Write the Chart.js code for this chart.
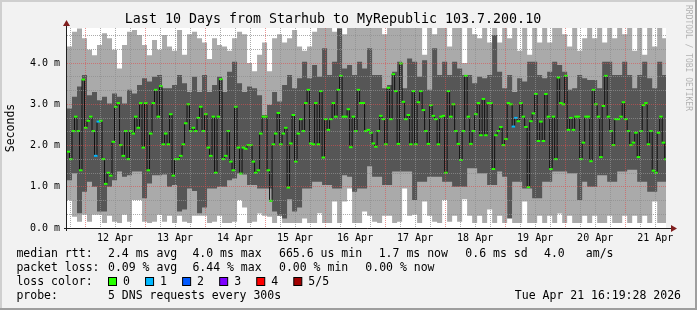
<!DOCTYPE html>
<html>
<head>
<meta charset="utf-8">
<title>Last 10 Days from Starhub to MyRepublic</title>
<script src="https://cdn.jsdelivr.net/npm/chart.js@4.4.1/dist/chart.umd.min.js"></script>
<style>
  html, body { margin: 0; padding: 0; background: #f2f2f2; }
  #wrap { width: 697px; height: 310px; position: relative; }
</style>
</head>
<body>
<div id="wrap"><canvas id="smokeChart"></canvas></div>
<script>
// time axis is in hours, counted from 12 Apr 00:00
const startHour = -7.2;
const endHour = 232.32;
const dayLabels = ['12 Apr', '13 Apr', '14 Apr', '15 Apr', '16 Apr', '17 Apr', '18 Apr', '19 Apr', '20 Apr', '21 Apr'];

// median rtt (ms), one value per hour
const medianRtt = [
  1.85,1.67,2.35,2.70,2.35,1.40,3.60,2.43,2.60,2.70,2.35,1.75,2.58,2.60,1.67,1.07,1.34,1.27,2.09,2.94,
  3.03,2.01,1.75,2.35,1.67,2.35,2.29,2.70,2.43,3.03,1.95,3.03,1.40,2.29,3.03,3.35,2.70,3.44,2.03,2.29,
  2.03,2.76,1.27,1.67,1.67,1.75,2.03,2.54,3.00,2.35,2.43,2.35,2.67,2.94,2.35,2.76,1.95,1.75,2.70,1.34,
  2.70,3.61,1.67,1.75,2.35,1.61,1.40,2.94,1.95,1.32,1.95,1.92,2.01,2.01,1.61,1.34,1.40,2.29,2.70,2.70,
  1.40,0.66,2.03,2.29,2.79,2.03,2.29,2.43,0.98,2.05,2.74,1.61,2.29,2.64,2.35,3.03,3.35,2.05,2.03,3.03,
  2.03,3.32,1.71,2.64,2.38,2.64,3.03,2.70,3.35,3.69,2.70,2.70,2.88,1.96,2.70,2.35,3.35,3.03,3.03,2.35,
  2.38,2.31,2.05,1.97,2.35,2.72,2.64,2.03,3.40,2.64,3.73,3.32,2.04,3.99,3.06,2.64,2.74,2.03,3.32,2.03,
  3.05,3.32,2.86,2.35,2.04,2.98,2.72,2.64,2.03,2.70,2.72,1.34,3.32,2.70,3.00,2.35,2.04,1.65,2.35,3.69,
  2.70,2.04,2.35,2.76,3.03,2.25,3.13,2.25,3.03,3.03,1.43,2.25,2.35,2.45,2.01,2.16,3.03,3.00,2.46,2.67,
  2.59,3.03,2.70,2.45,0.99,2.59,2.78,3.25,2.11,2.58,2.11,3.25,2.70,1.43,2.70,1.67,3.65,3.03,3.00,3.69,
  2.38,2.67,2.38,2.70,2.70,1.67,2.07,2.70,2.70,1.62,3.35,3.00,2.70,1.72,2.96,3.69,2.70,2.35,2.01,2.64,
  2.64,2.70,3.05,2.64,2.35,2.01,2.07,2.31,1.72,2.35,2.98,3.03,2.03,2.35,1.39,1.34,2.31,2.70,2.07,1.67
];
// hours where one of the 5 requests was lost
const lossHours = [11, 12, 178, 179];
const lossCounts = [1, 1, 1, 1];

// smoke (ms), one value per 2 hours: outer band low1..high1, inner band low2..high2
const smokeHigh1 = [
  4.40,4.76,4.84,4.60,4.32,4.19,4.44,4.72,4.60,4.32,3.87,4.44,4.76,4.80,4.68,4.44,4.19,4.56,4.32,4.68,
  4.40,4.30,4.80,4.20,4.70,4.76,4.60,4.50,4.10,4.60,4.44,4.40,4.30,4.60,4.76,4.70,4.00,3.80,4.20,4.50,
  3.80,4.60,4.70,4.50,4.60,4.80,4.40,4.30,4.40,4.76,4.90,4.90,4.90,4.76,4.90,4.70,4.90,4.90,4.90,4.90,
  4.90,4.90,4.90,4.70,4.90,4.90,4.90,4.90,4.90,4.90,4.90,4.20,4.90,4.70,4.90,4.90,4.40,4.90,4.90,4.00,
  4.90,4.70,4.60,4.90,4.50,4.90,4.50,4.90,4.60,4.90,4.30,4.90,4.20,4.90,4.50,4.90,4.50,4.90,4.90,4.70,
  4.40,4.90,4.30,4.60,4.90,4.60,4.90,4.50,4.90,4.60,4.90,4.70,4.90,4.30,4.90,4.20,4.90,4.40,4.90,4.60
];
const smokeHigh2 = [
  2.90,3.18,3.43,3.71,3.22,3.30,3.10,3.18,3.02,3.26,3.18,3.02,3.35,3.26,3.47,3.63,3.55,3.67,3.71,3.39,
  3.39,3.47,3.71,3.51,3.30,3.67,3.30,3.71,3.30,3.47,3.67,3.30,3.79,4.03,3.51,3.30,3.43,3.39,3.22,2.74,
  2.98,3.30,3.07,3.47,3.71,3.39,3.63,4.03,3.63,3.95,3.67,4.36,3.71,4.03,4.84,3.87,3.95,3.71,4.03,3.87,
  4.36,3.71,3.71,3.39,3.47,3.79,4.03,3.39,4.11,4.03,3.67,4.07,3.35,4.36,3.71,4.03,3.71,4.03,3.87,3.71,
  3.71,3.51,3.67,3.63,3.71,4.68,3.79,3.39,3.71,3.30,3.63,3.55,4.03,4.03,3.71,3.63,3.79,4.03,3.95,3.79,
  3.35,3.39,3.71,3.63,3.59,3.59,3.39,4.03,4.03,3.71,3.71,4.03,3.71,3.39,3.71,4.03,3.63,3.39,4.03,3.71
];
const smokeLow2 = [
  1.16,1.33,0.36,0.88,1.12,1.00,0.40,0.40,1.00,1.16,1.37,1.24,1.28,1.37,1.37,0.72,1.08,1.28,1.28,1.30,
  1.00,1.04,0.40,0.45,0.96,0.90,0.36,0.50,0.96,0.96,1.00,1.00,1.16,1.20,1.33,1.30,1.04,1.04,0.96,0.96,
  0.96,0.40,0.30,0.23,0.70,0.40,0.50,0.96,0.96,1.12,1.12,1.04,1.04,0.96,0.96,1.28,1.24,0.88,0.96,0.96,
  1.50,1.24,1.24,1.04,1.04,1.37,1.37,1.37,1.37,0.68,1.12,1.12,1.24,1.24,1.24,1.12,1.12,1.00,1.00,1.00,
  1.45,1.45,1.33,1.33,1.04,1.04,1.37,1.24,0.23,1.12,1.12,0.96,0.96,0.72,0.72,1.12,1.12,1.37,1.37,1.37,
  1.33,1.33,0.68,1.12,1.00,1.00,1.28,1.28,1.12,1.12,1.37,1.37,1.41,1.41,1.12,1.12,0.88,0.88,1.12,1.12
];
const smokeLow1 = [
  0.68,0.27,0.15,0.32,0.15,0.32,0.32,0.12,0.30,0.15,0.12,0.32,0.15,0.68,0.68,0.15,0.12,0.15,0.32,0.15,
  0.30,0.12,0.30,0.15,0.12,0.30,0.30,0.30,0.12,0.15,0.30,0.12,0.12,0.15,0.68,0.50,0.12,0.15,0.35,0.30,
  0.27,0.12,0.36,0.12,0.12,0.12,0.12,0.23,0.12,0.12,0.36,0.12,0.12,0.64,0.12,0.64,0.96,0.12,0.12,0.40,
  0.30,0.15,0.12,0.30,0.30,0.12,0.15,0.96,0.30,0.32,0.12,0.64,0.30,0.15,0.12,0.68,0.15,0.30,0.15,0.70,
  0.30,0.12,0.30,0.12,0.45,0.12,0.30,0.12,0.64,0.12,0.12,0.64,0.12,0.12,0.30,0.12,0.30,0.12,0.35,0.12,
  0.30,0.12,0.12,0.30,0.12,0.30,0.12,0.12,0.30,0.12,0.12,0.30,0.12,0.30,0.12,0.30,0.12,0.64,0.12,0.12
];

const lossColors = ['#26ff00', '#00b8ff', '#0059ff', '#7e00ff', '#ff0000', '#a10000'];
const lossLabels = ['0', '1', '2', '3', '4', '5/5'];
const rttStats = ['2.4 ms avg', '4.0 ms max', '665.6 us min', '1.7 ms now', '0.6 ms sd', '4.0', 'am/s'];
const lossStats = ['0.09 % avg', '6.44 % max', '0.00 % min', '0.00 % now'];
const probeText = '5 DNS requests every 300s';
const stampText = 'Tue Apr 21 16:19:28 2026';

const MONO = '"DejaVu Sans Mono", monospace';
const GRID = 'rgba(143,143,143,0.75)';
const MGRID = 'rgba(222,79,79,0.6)';

function stepSeries(values, t0, step) {
  const pts = values.map((v, i) => ({ x: t0 + i * step, y: v }));
  pts.push({ x: t0 + values.length * step, y: values[values.length - 1] });
  return pts;
}

const markPoints = medianRtt.map((v, i) => ({ x: startHour + i + 0.5, y: v }));
const markColors = medianRtt.map((v, i) => {
  const k = lossHours.indexOf(i);
  return lossColors[k < 0 ? 0 : lossCounts[k]];
});

// background, frame, axes with arrows, and the rrdtool style legend
const rrdFrame = {
  id: 'rrdFrame',
  beforeDraw(chart) {
    const { ctx, width, height, chartArea: a } = chart;
    ctx.save();
    ctx.fillStyle = '#f2f2f2';
    ctx.fillRect(0, 0, width, height);
    ctx.fillStyle = '#cfcfcf';
    ctx.fillRect(0, 0, width, 2);
    ctx.fillRect(0, 0, 2, height);
    ctx.fillStyle = '#9e9e9e';
    ctx.fillRect(0, height - 2, width, 2);
    ctx.fillRect(width - 2, 0, 2, height);
    ctx.fillStyle = '#ffffff';
    ctx.fillRect(a.left, a.top, a.right - a.left, a.bottom - a.top);
    ctx.restore();
  },
  afterDraw(chart) {
    const { ctx, chartArea: a } = chart;
    ctx.save();
    // axes
    ctx.strokeStyle = '#1f1f1f';
    ctx.lineWidth = 1;
    ctx.beginPath();
    ctx.moveTo(a.left - 3, a.bottom + 0.5);
    ctx.lineTo(a.right + 5, a.bottom + 0.5);
    ctx.moveTo(a.left - 0.5, a.bottom + 3);
    ctx.lineTo(a.left - 0.5, a.top - 2);
    ctx.stroke();
    ctx.fillStyle = '#801f1f';
    ctx.beginPath();
    ctx.moveTo(a.right + 5, a.bottom - 3);
    ctx.lineTo(a.right + 11, a.bottom + 0.5);
    ctx.lineTo(a.right + 5, a.bottom + 4);
    ctx.closePath();
    ctx.fill();
    ctx.beginPath();
    ctx.moveTo(a.left - 4, a.top - 2);
    ctx.lineTo(a.left - 0.5, a.top - 8);
    ctx.lineTo(a.left + 3, a.top - 2);
    ctx.closePath();
    ctx.fill();

    // legend
    ctx.font = '11.5px ' + MONO;
    ctx.textBaseline = 'middle';
    ctx.textAlign = 'left';
    ctx.fillStyle = '#000';
    const rttX = [108, 192.4, 279, 378.7, 465.3, 544, 585.8];
    ctx.fillText('median rtt:', 16.4, 254.5);
    rttStats.forEach((t, i) => ctx.fillText(t, rttX[i], 254.5));
    const lossX = [108, 192.4, 279, 365.3];
    ctx.fillText('packet loss:', 16.4, 268.5);
    lossStats.forEach((t, i) => ctx.fillText(t, lossX[i], 268.5));
    ctx.fillText('loss color:', 16.4, 282.5);
    lossColors.forEach((c, i) => {
      const x = 108 + i * 37.06;
      ctx.fillStyle = c;
      ctx.fillRect(x + 0.5, 277.5, 8, 8);
      ctx.strokeStyle = '#000';
      ctx.strokeRect(x + 0.5, 277.5, 8, 8);
      ctx.fillStyle = '#000';
      ctx.fillText(lossLabels[i], x + 15, 282.5);
    });
    ctx.fillText('probe:', 16.4, 296.5);
    ctx.fillText(probeText, 108, 296.5);
    ctx.textAlign = 'right';
    ctx.fillText(stampText, 681, 296.5);

    // watermark
    ctx.translate(688, 5);
    ctx.rotate(Math.PI / 2);
    ctx.textAlign = 'left';
    ctx.font = '8px ' + MONO;
    ctx.fillStyle = 'rgba(0,0,0,0.28)';
    ctx.fillText('RRDTOOL / TOBI OETIKER', 0, 0);
    ctx.restore();
  }
};

const hidden = 'rgba(0,0,0,0)';

new Chart(document.getElementById('smokeChart'), {
  type: 'line',
  data: {
    datasets: [
      { label: 'smoke low 1', data: stepSeries(smokeLow1, startHour, 2), stepped: true,
        borderColor: hidden, borderWidth: 1, pointRadius: 0, fill: false, order: 4 },
      { label: 'smoke high 1', data: stepSeries(smokeHigh1, startHour, 2), stepped: true,
        borderColor: hidden, borderWidth: 1, pointRadius: 0, fill: { target: 0 },
        backgroundColor: '#aaaaaa', order: 4 },
      { label: 'smoke low 2', data: stepSeries(smokeLow2, startHour, 2), stepped: true,
        borderColor: hidden, borderWidth: 1, pointRadius: 0, fill: false, order: 3 },
      { label: 'smoke high 2', data: stepSeries(smokeHigh2, startHour, 2), stepped: true,
        borderColor: hidden, borderWidth: 1, pointRadius: 0, fill: { target: 2 },
        backgroundColor: '#565656', order: 3 },
      { label: 'median rtt', data: stepSeries(medianRtt, startHour, 1), stepped: true,
        borderColor: '#111111', borderWidth: 1, pointRadius: 0, fill: false, order: 2 },
      { label: 'median loss colour', data: markPoints, showLine: false,
        pointStyle: 'line', pointRadius: 1.75, pointBorderWidth: 2,
        pointBorderColor: markColors, pointBackgroundColor: markColors, order: 1 }
    ]
  },
  options: {
    responsive: true,
    maintainAspectRatio: false,
    animation: false,
    events: [],
    layout: { padding: { top: 0, right: 31, bottom: 0, left: 0 } },
    plugins: {
      legend: { display: false },
      tooltip: { enabled: false },
      title: {
        display: true,
        text: 'Last 10 Days from Starhub to MyRepublic 103.7.200.10',
        color: '#000',
        font: { family: MONO, size: 13.3, weight: 'normal', lineHeight: '16px' },
        padding: { top: 11.5, bottom: 0.5 }
      }
    },
    scales: {
      x: {
        type: 'linear',
        min: startHour,
        max: endHour,
        afterFit: s => { s.height = 82; },
        afterBuildTicks: s => {
          const t = [];
          for (let h = -6; h <= endHour; h += 6) t.push({ value: h });
          s.ticks = t;
        },
        ticks: {
          autoSkip: false,
          maxRotation: 0,
          padding: 4,
          color: '#000',
          font: { family: MONO, size: 10 },
          callback: v => {
            const d = (v - 12) / 24;
            return Number.isInteger(d) && dayLabels[d] ? dayLabels[d] : '';
          }
        },
        grid: {
          drawTicks: false,
          z: 1,
          lineWidth: 1,
          color: c => (c.tick && c.tick.value % 24 === 0 ? MGRID : GRID)
        },
        border: { display: false, dash: [1, 1] }
      },
      y: {
        type: 'linear',
        min: 0,
        max: 4.85,
        afterFit: s => { s.width = 67; },
        afterBuildTicks: s => {
          const t = [];
          for (let k = 0; k <= 14; k++) t.push({ value: k / 3 });
          s.ticks = t;
        },
        title: {
          display: true,
          text: 'Seconds',
          color: '#000',
          font: { family: MONO, size: 11.5 },
          padding: { top: 4, bottom: 0 }
        },
        ticks: {
          autoSkip: false,
          padding: 7,
          color: '#000',
          font: { family: MONO, size: 10 },
          callback: v => (Math.abs(v - Math.round(v)) < 1e-6 ? Math.round(v).toFixed(1) + ' m' : '')
        },
        grid: {
          drawTicks: false,
          z: 1,
          lineWidth: 1,
          color: c => (c.tick && Math.abs(c.tick.value - Math.round(c.tick.value)) < 1e-6 ? MGRID : GRID)
        },
        border: { display: false, dash: [1, 1] }
      }
    }
  },
  plugins: [rrdFrame]
});
</script>
</body>
</html>
